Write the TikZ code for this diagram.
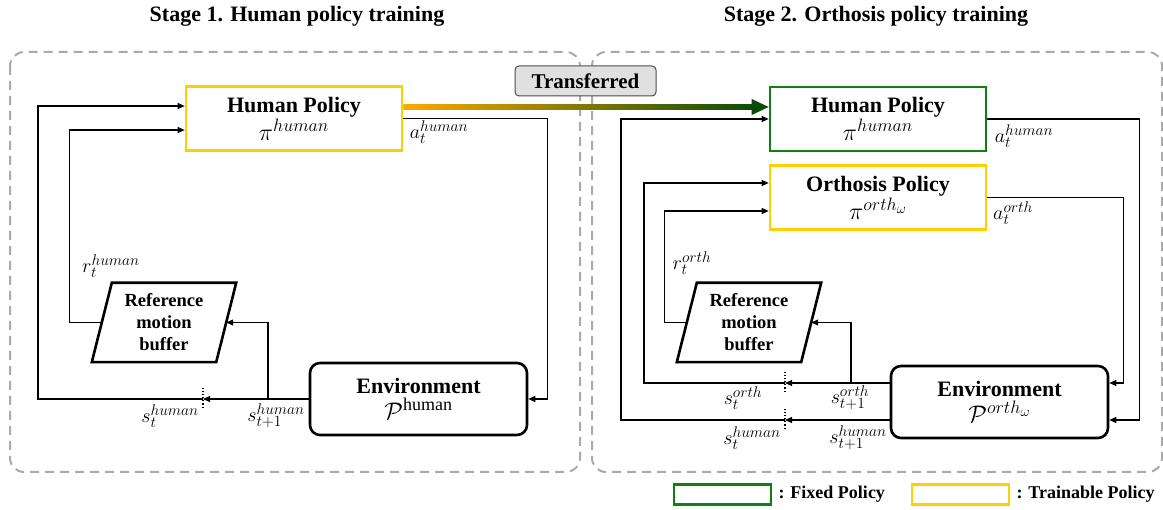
\RequirePackage{fix-cm}
\documentclass[tikz,border=0pt]{standalone}
\usepackage{fontspec}
\setmainfont{Liberation Serif}
\usetikzlibrary{arrows.meta,calc}
\DeclareMathSizes{22}{24}{18}{14}
\DeclareMathSizes{19}{20}{15.5}{11.5}
\definecolor{gold}{RGB}{255,208,0}
\definecolor{fixgreen}{RGB}{16,128,16}
\definecolor{panelgray}{RGB}{170,170,170}
\definecolor{arrorange}{RGB}{255,168,0}
\definecolor{arrgreen}{RGB}{10,75,10}
\begin{document}
\begin{tikzpicture}[x=1pt,y=-1pt,
  policy/.style={draw, line width=2.6pt, minimum width=216pt, minimum height=64pt, align=center, inner sep=0pt, font=\fontsize{22}{28}\selectfont},
  envbox/.style={draw, line width=2.6pt, rounded corners=10pt, minimum width=217pt, minimum height=72pt, align=center, inner sep=0pt, font=\fontsize{22}{26}\selectfont},
  bufnode/.style={minimum width=124pt, minimum height=79pt, align=center, inner sep=0pt, font=\bfseries\fontsize{18.5}{22}\selectfont},
  bufshape/.style={line width=2.6pt, line join=miter},
  conn/.style={line width=1.1pt, -{Triangle[length=7pt,width=6pt]}},
  marker/.style={dotted, line width=1.1pt},
  lbl/.style={inner sep=0pt, font=\fontsize{19}{22}\selectfont},
  panel/.style={draw=panelgray, line width=2pt, dash pattern=on 9pt off 6pt, rounded corners=14pt},
  titlestyle/.style={inner sep=0pt, font=\bfseries\fontsize{22}{26}\selectfont},
  legendbox/.style={line width=2.6pt, minimum width=97pt, minimum height=20pt, inner sep=0pt},
  legendtext/.style={anchor=west, inner sep=0pt, font=\bfseries\fontsize{18}{20}\selectfont}
]
\useasboundingbox (0,0) rectangle (1163,510);

% titles
\node[titlestyle] (t1) at (297,16) {Stage 1. Human policy training};
\node[titlestyle] (t2) at (876,16) {Stage 2. Orthosis policy training};

% panels
\draw[panel] (10,52) rectangle (580,472);
\draw[panel] (592,52) rectangle (1162,472);

% ---------- Stage 1 ----------
\node[policy, draw=gold] (hp1) at (294,118.5) {{\bfseries Human Policy}\\$\pi^{human}$};
\node[envbox] (env1) at (418.5,399) {{\bfseries Environment}\\$\mathcal{P}^{\mathrm{human}}$};
\node[bufnode] (buf1) at (164,322.5) {Reference\\motion\\buffer};
\draw[bufshape] ([xshift=10pt]buf1.north west) -- ([xshift=10pt]buf1.north east) -- ([xshift=-10pt]buf1.south east) -- ([xshift=-10pt]buf1.south west) -- cycle;

\coordinate (dot1) at (203,399);
\coordinate (br1) at (268,399);
\draw[conn] (hp1.east) -- ++(144,0) |- (env1.east);
\draw[conn] (env1.west) -- (dot1);
\draw[conn] (dot1) -- ++(-165,0) |- ([yshift=12.5pt]hp1.west);
\draw[conn] (br1) |- (buf1.east);
\draw[conn] (buf1.west) -- ++(-32,0) |- ([yshift=-11.5pt]hp1.west);
\draw[marker] ([yshift=11pt]dot1) -- ([yshift=-10pt]dot1);

\node[lbl] (la1) at (439,132) {$a_t^{human}$};
\node[lbl] (lr1) at (111,266) {$r_t^{human}$};
\node[lbl] (ls1) at (170,416) {$s_t^{human}$};
\node[lbl] (ls1p) at (276,416) {$s_{t+1}^{human}$};

% ---------- Stage 2 ----------
\node[policy, draw=fixgreen] (hp2) at (878,119) {{\bfseries Human Policy}\\$\pi^{human}$};
\node[policy, draw=gold] (op2) at (878,197.5) {{\bfseries Orthosis Policy}\\$\pi^{orth_\omega}$};
\node[envbox] (env2) at (999.5,402) {{\bfseries Environment}\\$\mathcal{P}^{orth_\omega}$};
\node[bufnode] (buf2) at (749,322.5) {Reference\\motion\\buffer};
\draw[bufshape] ([xshift=10pt]buf2.north west) -- ([xshift=10pt]buf2.north east) -- ([xshift=-10pt]buf2.south east) -- ([xshift=-10pt]buf2.south west) -- cycle;

\coordinate (dot2a) at (785,383);
\coordinate (dot2b) at (785,420);
\coordinate (br2) at (851,383);
\draw[conn] (hp2.east) -- ++(152,0) |- ([yshift=-18pt]env2.east);
\draw[conn] (op2.east) -- ++(136,0) |- ([yshift=19pt]env2.east);
\draw[conn] ([yshift=19pt]env2.west) -- (dot2a);
\draw[conn] ([yshift=-18pt]env2.west) -- (dot2b);
\draw[conn] (dot2a) -- ++(-141,0) |- ([yshift=14.5pt]op2.west);
\draw[conn] (dot2b) -- ++(-164,0) |- (hp2.west);
\draw[conn] (br2) |- (buf2.east);
\draw[conn] (buf2.west) -- ++(-22,0) |- ([yshift=-13.5pt]op2.west);
\draw[marker] ([yshift=11pt]dot2a) -- ([yshift=-10pt]dot2a);
\draw[marker] ([yshift=11pt]dot2b) -- ([yshift=-10pt]dot2b);

\node[lbl] (la2) at (1024,136) {$a_t^{human}$};
\node[lbl] (lo2) at (1013,213) {$a_t^{orth}$};
\node[lbl] (lr2) at (692,263) {$r_t^{orth}$};
\node[lbl] (ls2) at (743,398) {$s_t^{orth}$};
\node[lbl] (ls2p) at (850,398) {$s_{t+1}^{orth}$};
\node[lbl] (lh2) at (752,438) {$s_t^{human}$};
\node[lbl] (lh2p) at (858,438) {$s_{t+1}^{human}$};

% ---------- transfer arrow ----------
\shade[left color=arrorange, right color=arrgreen] ([yshift=9pt]hp1.east) rectangle ([xshift=-15pt,yshift=14pt]hp2.west);
\fill[arrgreen] ([xshift=-17pt,yshift=20pt]hp2.west) -- ([yshift=12pt]hp2.west) -- ([xshift=-17pt,yshift=4pt]hp2.west) -- cycle;
\node[draw=black!70, fill=black!12, rounded corners=4pt, line width=1pt, minimum width=141pt, minimum height=30pt, inner sep=0pt, font=\bfseries\fontsize{21}{24}\selectfont] (tr) at (585.5,81) {Transferred};

% ---------- legend ----------
\node[legendbox, draw=fixgreen] (lg1) at (722.5,494.5) {};
\node[legendtext] (lt1) at ([xshift=6pt]lg1.east) {: Fixed Policy};
\node[legendbox, draw=gold] (lg2) at (960.5,494.5) {};
\node[legendtext] (lt2) at ([xshift=6pt]lg2.east) {: Trainable Policy};
\end{tikzpicture}
\end{document}
